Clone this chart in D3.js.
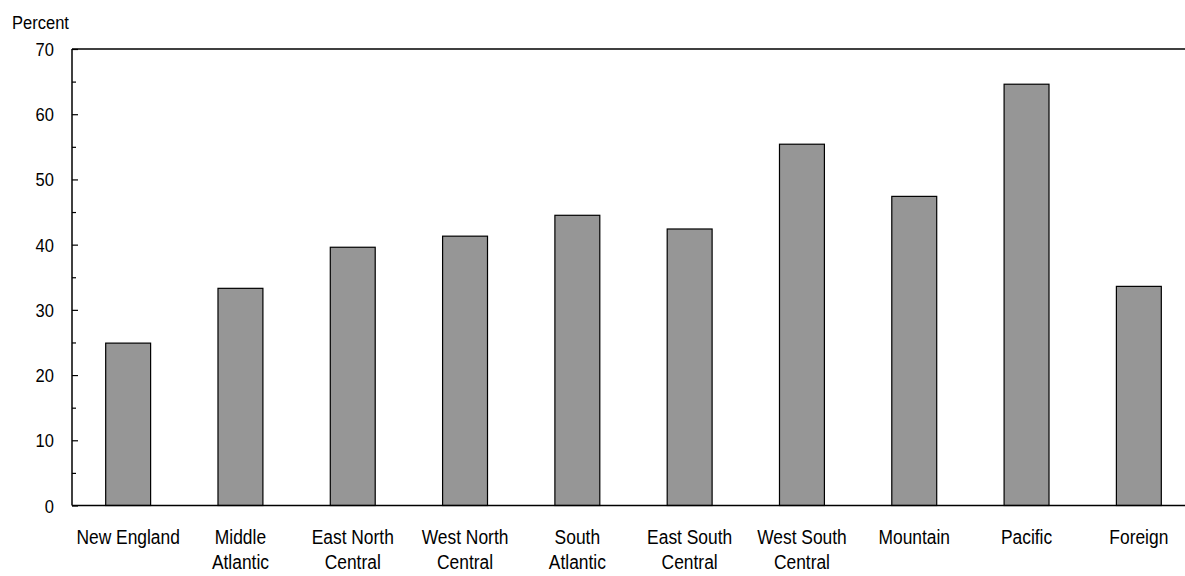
<!DOCTYPE html>
<html>
<head>
<meta charset="utf-8">
<script src="https://cdnjs.cloudflare.com/ajax/libs/d3/7.8.5/d3.min.js"></script>
<style>
  body { margin: 0; background: #fff; }
  text { font-family: "Liberation Sans Narrow", "Arial Narrow", "Liberation Sans", Arial, sans-serif; fill: #000; }
</style>
</head>
<body>
<div id="chart"></div>
<script>
// Share by region (percent)
var regions = ["New England", "Middle Atlantic", "East North Central", "West North Central",
               "South Atlantic", "East South Central", "West South Central", "Mountain",
               "Pacific", "Foreign"];
var labelLines = [["New England"], ["Middle", "Atlantic"], ["East North", "Central"],
                  ["West North", "Central"], ["South", "Atlantic"], ["East South", "Central"],
                  ["West South", "Central"], ["Mountain"], ["Pacific"], ["Foreign"]];
var values = [24.9, 33.3, 39.6, 41.3, 44.5, 42.4, 55.4, 47.4, 64.6, 33.6];
var yTicks = [0, 10, 20, 30, 40, 50, 60, 70];
var yMinor = [5, 15, 25, 35, 45, 55, 65];

var W = 1185, H = 576;
var LEFT = 72, RIGHT = 1195, TOP = 49, BOTTOM = 505.5;
var NARROW = 0.87; // squeeze text horizontally, no narrow font installed

var svg = d3.select("#chart").append("svg")
	.attr("width", W)
	.attr("height", H);

var x = d3.scaleBand()
	.domain(regions)
	.range([LEFT, RIGHT])
	.paddingInner(0.6)
	.paddingOuter(0.3);

var y = d3.scaleLinear()
	.domain([0, 70])
	.range([BOTTOM, TOP]);

// bars
svg.selectAll("rect.bar")
	.data(values)
	.enter()
	.append("rect")
	.attr("class", "bar")
	.attr("x", function(d, i) { return x(regions[i]); })
	.attr("y", function(d) { return y(d); })
	.attr("width", x.bandwidth())
	.attr("height", function(d) { return y(0) - y(d); })
	.attr("fill", "#969696")
	.attr("stroke", "#000")
	.attr("stroke-width", 1.2);

// y axis with ticks pointing into the plot
var yAxis = d3.axisRight(y).tickValues(yTicks).tickSize(6).tickFormat("");
var gy = svg.append("g").attr("transform", "translate(" + LEFT + ",0)").call(yAxis);
gy.select(".domain").remove();
gy.selectAll(".tick line").attr("stroke", "#000").attr("stroke-width", 1.2);

var yAxisMinor = d3.axisRight(y).tickValues(yMinor).tickSize(4).tickFormat("");
var gm = svg.append("g").attr("transform", "translate(" + LEFT + ",0)").call(yAxisMinor);
gm.select(".domain").remove();
gm.selectAll(".tick line").attr("stroke", "#000").attr("stroke-width", 1.2);

svg.append("line")
	.attr("x1", LEFT).attr("x2", LEFT)
	.attr("y1", y(70)).attr("y2", y(0))
	.attr("stroke", "#000").attr("stroke-width", 1.5);

// bottom and top frame lines
svg.append("line")
	.attr("x1", LEFT).attr("x2", W)
	.attr("y1", y(0)).attr("y2", y(0))
	.attr("stroke", "#000").attr("stroke-width", 1.5);
svg.append("line")
	.attr("x1", LEFT).attr("x2", W)
	.attr("y1", y(70)).attr("y2", y(70))
	.attr("stroke", "#000").attr("stroke-width", 1.5);

// y tick labels
svg.selectAll("text.ylab")
	.data(yTicks)
	.enter()
	.append("text")
	.attr("class", "ylab")
	.attr("text-anchor", "end")
	.attr("transform", function(d) {
		return "translate(54," + (y(d) + 7) + ") scale(" + NARROW + ",1)";
	})
	.style("font-size", "19px")
	.text(function(d) { return d; });

svg.append("text")
	.attr("transform", "translate(12,29) scale(" + NARROW + ",1)")
	.style("font-size", "19px")
	.text("Percent");

// category labels
var cats = svg.selectAll("text.cat")
	.data(labelLines)
	.enter()
	.append("text")
	.attr("class", "cat")
	.attr("text-anchor", "middle")
	.style("font-size", "20px")
	.attr("transform", function(d, i) {
		return "translate(" + (x(regions[i]) + x.bandwidth() / 2) + ",544) scale(" + NARROW + ",1)";
	});
cats.selectAll("tspan")
	.data(function(d) { return d; })
	.enter()
	.append("tspan")
	.attr("x", 0)
	.attr("dy", function(d, j) { return j == 0 ? 0 : 25; })
	.text(function(d) { return d; });
</script>
</body>
</html>
